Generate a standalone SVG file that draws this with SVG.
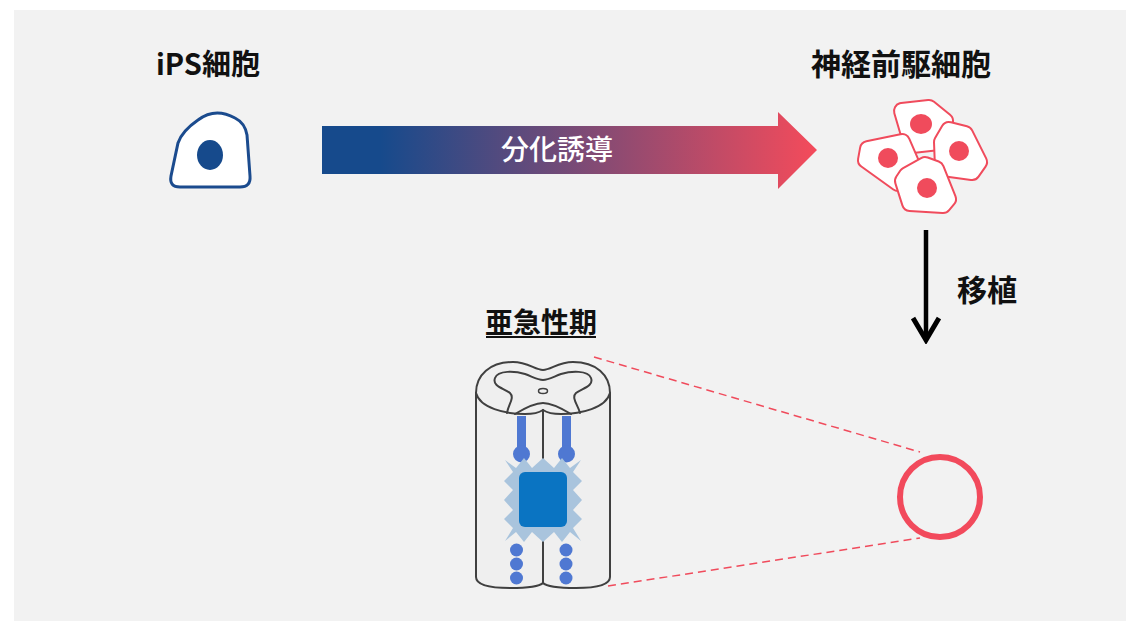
<svg xmlns="http://www.w3.org/2000/svg" width="1126" height="621" viewBox="0 0 1126 621">
  <style>
    .title { font-family: "Noto Sans CJK JP", "Noto Sans", sans-serif; font-weight: 700; fill: #111; text-anchor: middle; }
    .label { font-family: "Noto Sans CJK JP", "Noto Sans", sans-serif; font-weight: 500; fill: #fff; text-anchor: middle; }
    .cellEdge { fill: #f04b5c; stroke: #f04b5c; stroke-width: 18; stroke-linejoin: round; }
    .cellBody { fill: #fff; stroke: #fff; stroke-width: 14; stroke-linejoin: round; }
    .nucleus { fill: #f04b5c; }
    .cord { fill: #efefef; stroke: #404040; stroke-width: 2; stroke-linejoin: round; }
    .cordLine { fill: none; stroke: #404040; stroke-width: 2; stroke-linecap: round; }
    .tract { fill: none; stroke: #4f78d2; stroke-width: 9; }
    .dot { fill: #4f78d2; }
    .dash { fill: none; stroke: #f04b5c; stroke-width: 1.5; stroke-dasharray: 8 5; }
  </style>
  <defs>
    <linearGradient id="diffGrad" gradientUnits="userSpaceOnUse" x1="380" y1="0" x2="817" y2="0">
      <stop offset="0" stop-color="#164a8c"/>
      <stop offset="1" stop-color="#f44b5b"/>
    </linearGradient>
    <marker id="chevron" viewBox="0 0 28 30" refX="24" refY="15" markerWidth="28" markerHeight="30" markerUnits="userSpaceOnUse" orient="auto">
      <path d="M2 2 L24 15 L2 28" fill="none" stroke="#000" stroke-width="5"/>
    </marker>
    <polygon id="npc1" points="902,111 929,108 945,121 939,142 912,145"/>
    <polygon id="npc2" points="868,149 902,142 912,165 898,183 866,160"/>
    <polygon id="npc3" points="949,130 965,134 979,162 972,172 943,168 942,142"/>
    <polygon id="npc4" points="907,175 925,165 936,169 948,199 943,205 910,203 903,181"/>
  </defs>

  <!-- panel background -->
  <rect x="14" y="10" width="1112" height="611" fill="#f2f2f2"/>

  <!-- iPS cell -->
  <g id="ips-cell">
    <text class="title" x="208" y="75" font-size="29">iPS細胞</text>
    <path d="M198 120 Q215 107 235 118 Q245 123 247 135 L250 176 Q251 187 240 187 L180 187 Q169 187 171 176 L178 143 Q182 131 198 120 Z" fill="#fff" stroke="#1b4b8e" stroke-width="3"/>
    <ellipse cx="210" cy="155" rx="13" ry="15" fill="#164a8c"/>
  </g>

  <!-- neural progenitor cells -->
  <g id="npc-cluster">
    <text class="title" x="901" y="75" font-size="30">神経前駆細胞</text>
    <use href="#npc1" class="cellEdge"/><use href="#npc1" class="cellBody"/>
    <ellipse class="nucleus" cx="921" cy="124" rx="11" ry="10"/>
    <use href="#npc2" class="cellEdge"/><use href="#npc2" class="cellBody"/>
    <ellipse class="nucleus" cx="888" cy="158" rx="10" ry="10"/>
    <use href="#npc3" class="cellEdge"/><use href="#npc3" class="cellBody"/>
    <ellipse class="nucleus" cx="959" cy="151" rx="10" ry="10"/>
    <use href="#npc4" class="cellEdge"/><use href="#npc4" class="cellBody"/>
    <ellipse class="nucleus" cx="927" cy="188" rx="10" ry="10"/>
  </g>

  <!-- spinal cord, subacute phase -->
  <g id="spinal-cord">
    <text class="title" x="541" y="333" font-size="28">亜急性期</text>
    <rect x="486" y="336" width="110" height="2" fill="#111"/>
    <path class="cord" d="M476 393 C476 375 490 362 513 362 C528 362 535 370 543 370 C551 370 558 362 573 362 C596 362 610 375 610 393 L610 577 C610 585 596 588 576 588 C556 588 546 586 543 583 C540 586 530 588 510 588 C490 588 476 585 476 577 Z"/>
    <path class="cordLine" d="M476 393 C480 408 505 414 525 414 C535 414 540 412 543 410 C546 412 551 414 561 414 C581 414 606 408 610 393"/>
    <path class="cordLine" d="M543 410 L543 583"/>
    <!-- grey matter -->
    <path class="cordLine" d="M507 413 C508 405 515 398 510 393 C503 388 492 386 495 378 C498 370 515 371 525 374 C533 377 538 380 543 380 C548 380 553 377 561 374 C571 371 588 370 591 378 C594 386 583 388 576 393 C571 398 578 405 580 413"/>
    <path class="cordLine" d="M515 414 C525 408 535 403 543 403 C551 403 561 408 571 414"/>
    <ellipse cx="543" cy="391" rx="4.5" ry="2.5" fill="none" stroke="#404040" stroke-width="1.5"/>
    <!-- descending tracts -->
    <path class="tract" d="M521.5 416 L521.5 452 M566.5 416 L566.5 452"/>
    <circle class="dot" cx="521.5" cy="454" r="8.5"/>
    <circle class="dot" cx="566.5" cy="454" r="8.5"/>
    <!-- lesion -->
    <polygon fill="#a9c4dd" points="505,460 516,468 524,458 532,468 543,458 554,468 562,458 570,468 581,460 573,472 582,481 573,490 582,500 573,510 582,519 573,528 581,541 570,532 562,542 554,532 543,542 532,532 524,542 516,532 505,541 513,528 504,519 513,510 504,500 513,490 504,481 513,472"/>
    <rect x="519" y="472" width="48" height="55" rx="6" fill="#0a74c2"/>
    <!-- axons below the lesion -->
    <circle class="dot" cx="516.5" cy="550" r="6.5"/>
    <circle class="dot" cx="516.5" cy="564" r="6.5"/>
    <circle class="dot" cx="516.5" cy="578" r="6.5"/>
    <circle class="dot" cx="566" cy="550" r="6.5"/>
    <circle class="dot" cx="566" cy="564" r="6.5"/>
    <circle class="dot" cx="566" cy="578" r="6.5"/>
  </g>

  <!-- injury site -->
  <g id="injury-site">
    <circle cx="940" cy="497" r="40" fill="none" stroke="#f24a5c" stroke-width="6"/>
  </g>

  <g id="connectors">
    <polygon points="322,126 778,126 778,112 817,150 778,189 778,174 322,174" fill="url(#diffGrad)"/>
    <text class="label" x="557" y="160" font-size="28">分化誘導</text>
    <path d="M926 230 L926 340" stroke="#000" stroke-width="4.5" marker-end="url(#chevron)"/>
    <text class="title" x="987" y="301" font-size="30">移植</text>
    <path class="dash" d="M594 357 L920 452"/>
    <path class="dash" d="M608 586 L920 538"/>
  </g>
</svg>
